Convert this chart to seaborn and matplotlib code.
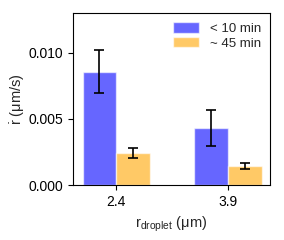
import matplotlib
matplotlib.use("Agg")
import matplotlib.pyplot as plt
import seaborn as sns
import pandas as pd
import numpy as np

radii = ["2.4", "3.9"]
groups = ["< 10 min", "~ 45 min"]
rate_early = [0.00856, 0.00432]
err_early = [0.00162, 0.00134]
rate_late = [0.00242, 0.00144]
err_late = [0.00038, 0.00023]

sns.set_style("ticks")
plt.rcParams["font.family"] = ["Liberation Sans", "DejaVu Sans"]
plt.rcParams["mathtext.default"] = "regular"
plt.rcParams["font.size"] = 10

df = pd.DataFrame({
    "r": radii * 2,
    "rate": rate_early + rate_late,
    "err": err_early + err_late,
    "group": [groups[0]] * 2 + [groups[1]] * 2,
})

fig = plt.figure(figsize=(2.84, 2.40), dpi=100)
ax = fig.add_axes([0.257, 0.229, 0.694, 0.717])
sns.barplot(data=df, x="r", y="rate", hue="group", order=radii, hue_order=groups,
            palette=["blue", "orange"], alpha=0.6, saturation=1, width=0.6,
            errorbar=None, ax=ax)

for cont, g in zip(ax.containers, groups):
    sub = df[df.group == g].set_index("r").loc[radii]
    xs = [p.get_x() + p.get_width() / 2 for p in cont.patches]
    ax.errorbar(xs, sub["rate"].values, yerr=sub["err"].values, fmt="none",
                ecolor="black", elinewidth=1.2, capsize=3.5, capthick=1.2)

ax.set_ylim(0, 0.013)
ax.set_yticks([0.0, 0.005, 0.010])
ax.set_yticklabels(["0.000", "0.005", "0.010"])
ax.set_xlim(-0.385, 1.375)
ax.set_xlabel("$r_{droplet}$ (μm)", fontsize=10.5, labelpad=4)
ax.set_ylabel("$\\dot{r}$ (μm/s)", fontsize=10.5, labelpad=1)
ax.tick_params(labelsize=10, length=3.5, width=0.8, colors="black")
for s in ax.spines.values():
    s.set_color("black")
    s.set_linewidth(0.8)
ax.legend(loc="upper right", frameon=False, fontsize=9.5, handlelength=2.0,
          handleheight=0.9, labelspacing=0.1, borderaxespad=0.3, handletextpad=0.8)

fig.savefig("out.png", dpi=100)
